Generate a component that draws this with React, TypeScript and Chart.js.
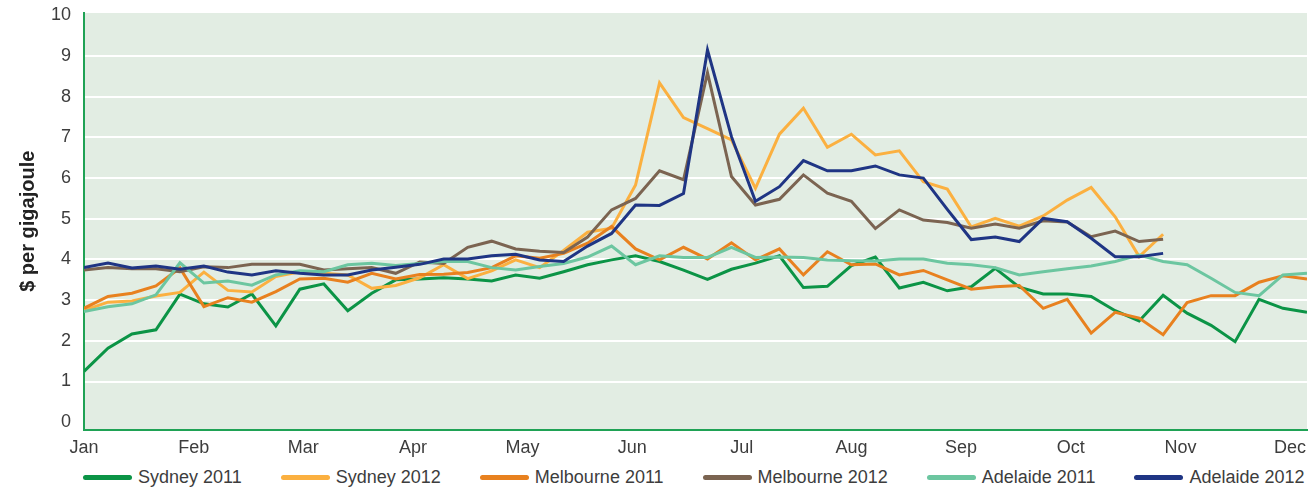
import React, { useEffect, useRef } from "react";
import { Chart, registerables } from "chart.js";

Chart.register(...registerables);

// ---- data ----
const months = ["Jan", "Feb", "Mar", "Apr", "May", "Jun", "Jul", "Aug", "Sep", "Oct", "Nov", "Dec"];
const yTickValues = [0, 1, 2, 3, 4, 5, 6, 7, 8, 9, 10];
const weeksPerMonth = 4.572;

const seriesNames = ["Sydney 2011", "Sydney 2012", "Melbourne 2011", "Melbourne 2012", "Adelaide 2011", "Adelaide 2012"];

const sydney2011 = [
  1.25, 1.82, 2.17, 2.27, 3.15, 2.91, 2.83, 3.15, 2.37, 3.27,
  3.40, 2.74, 3.17, 3.50, 3.52, 3.55, 3.52, 3.47, 3.62, 3.54,
  3.70, 3.87, 3.99, 4.09, 3.95, 3.74, 3.51, 3.76, 3.91, 4.09,
  3.31, 3.34, 3.85, 4.06, 3.30, 3.44, 3.23, 3.33, 3.78, 3.32,
  3.15, 3.15, 3.09, 2.74, 2.49, 3.12, 2.68, 2.38, 1.98, 3.02,
  2.80, 2.70,
];
const sydney2012 = [
  2.75, 2.95, 2.98, 3.10, 3.19, 3.69, 3.24, 3.20, 3.58, 3.70,
  3.66, 3.62, 3.29, 3.36, 3.55, 3.87, 3.53, 3.72, 3.99, 3.80,
  4.22, 4.67, 4.77, 5.83, 8.34, 7.49, 7.22, 6.94, 5.75, 7.08,
  7.72, 6.76, 7.08, 6.57, 6.67, 5.91, 5.73, 4.80, 5.01, 4.82,
  5.07, 5.46, 5.77, 5.05, 4.07, 4.62,
];
const melbourne2011 = [
  2.80, 3.09, 3.17, 3.35, 3.79, 2.84, 3.06, 2.95, 3.21, 3.52,
  3.54, 3.44, 3.66, 3.52, 3.63, 3.64, 3.68, 3.80, 4.09, 4.03,
  4.15, 4.40, 4.81, 4.26, 3.99, 4.30, 4.01, 4.41, 3.99, 4.26,
  3.62, 4.19, 3.87, 3.89, 3.62, 3.73, 3.50, 3.27, 3.33, 3.36,
  2.80, 3.02, 2.19, 2.70, 2.56, 2.15, 2.94, 3.11, 3.11, 3.44,
  3.60, 3.52,
];
const melbourne2012 = [
  3.74, 3.80, 3.77, 3.77, 3.70, 3.82, 3.80, 3.88, 3.88, 3.88,
  3.74, 3.77, 3.80, 3.66, 3.94, 3.90, 4.30, 4.45, 4.26, 4.20,
  4.17, 4.55, 5.22, 5.50, 6.18, 5.96, 8.59, 6.04, 5.34, 5.48,
  6.08, 5.63, 5.43, 4.76, 5.22, 4.97, 4.91, 4.77, 4.87, 4.77,
  4.95, 4.92, 4.56, 4.70, 4.44, 4.50,
];
const adelaide2011 = [
  2.72, 2.84, 2.91, 3.13, 3.92, 3.42, 3.47, 3.37, 3.62, 3.72,
  3.70, 3.87, 3.91, 3.85, 3.90, 3.95, 3.95, 3.80, 3.74, 3.83,
  3.90, 4.06, 4.33, 3.87, 4.09, 4.05, 4.05, 4.30, 4.05, 4.06,
  4.05, 3.99, 3.97, 3.96, 4.01, 4.01, 3.91, 3.87, 3.80, 3.62,
  3.70, 3.77, 3.84, 3.95, 4.11, 3.95, 3.87, 3.54, 3.19, 3.11,
  3.62, 3.66,
];
const adelaide2012 = [
  3.80, 3.91, 3.79, 3.84, 3.76, 3.84, 3.69, 3.62, 3.72, 3.66,
  3.62, 3.62, 3.74, 3.81, 3.88, 4.01, 4.01, 4.09, 4.13, 3.99,
  3.95, 4.33, 4.64, 5.34, 5.33, 5.62, 9.15, 7.02, 5.43, 5.79,
  6.43, 6.18, 6.18, 6.30, 6.08, 6.00, 5.23, 4.49, 4.55, 4.44,
  5.01, 4.93, 4.52, 4.07, 4.07, 4.15,
];

const seriesValues = [sydney2011, sydney2012, melbourne2011, melbourne2012, adelaide2011, adelaide2012];
const seriesColors = ["#0b9446", "#fbb040", "#e8811f", "#7b6451", "#6cc6a0", "#1f3584"];

const FONT = "'Liberation Sans', Arial, Helvetica, sans-serif";
const TEXT_COLOR = "#3d3d3d";
const AXIS_COLOR = "#1fa255";
const PLOT_BG = "#e2ede3";

const plotBackground = {
  id: "plotBackground",
  beforeDraw(chart: any) {
    const { ctx, chartArea } = chart;
    if (!chartArea) return;
    ctx.save();
    ctx.fillStyle = PLOT_BG;
    ctx.fillRect(chartArea.left, chartArea.top, chartArea.right - chartArea.left, chartArea.bottom - chartArea.top);
    ctx.restore();
  },
};

export default function App() {
  const canvasRef = useRef<HTMLCanvasElement | null>(null);

  useEffect(() => {
    if (!canvasRef.current) return;
    const datasets = seriesNames.map((name, i) => ({
      label: name,
      data: seriesValues[i].map((v, k) => ({ x: k, y: v })),
      borderColor: seriesColors[i],
      backgroundColor: seriesColors[i],
      borderWidth: 3,
      pointRadius: 0,
      pointHoverRadius: 0,
      tension: 0,
      fill: false,
      order: seriesNames.length - i,
    }));

    const chart = new Chart(canvasRef.current, {
      type: "line",
      data: { datasets },
      plugins: [plotBackground],
      options: {
        animation: false,
        responsive: true,
        maintainAspectRatio: false,
        layout: { padding: { left: 0, right: 5, top: 13, bottom: 0 } },
        plugins: {
          legend: { display: false },
          tooltip: { enabled: false },
        },
        scales: {
          x: {
            type: "linear",
            min: 0,
            max: 51,
            grid: { display: false, drawTicks: false },
            border: { display: true, color: AXIS_COLOR, width: 2 },
            afterBuildTicks: (scale: any) => {
              scale.ticks = months.map((_, i) => ({ value: i * weeksPerMonth }));
            },
            afterFit: (scale: any) => {
              scale.height = 30.5;
              scale.paddingLeft = 0;
              scale.paddingRight = 0;
            },
            ticks: {
              autoSkip: false,
              maxRotation: 0,
              padding: 8,
              color: TEXT_COLOR,
              font: { family: FONT, size: 18 },
              callback: (_v: any, i: number) => months[i],
            },
          },
          y: {
            type: "linear",
            min: -0.18,
            max: 10.06,
            afterBuildTicks: (scale: any) => {
              scale.ticks = yTickValues.map((v) => ({ value: v }));
            },
            afterFit: (scale: any) => {
              scale.width = 84;
              scale.paddingTop = 0;
              scale.paddingBottom = 0;
            },
            grid: {
              drawTicks: false,
              lineWidth: 2,
              color: (ctx: any) =>
                ctx.tick && ctx.tick.value > 0 && ctx.tick.value < 10 ? "#ffffff" : "rgba(0,0,0,0)",
            },
            border: { display: true, color: AXIS_COLOR, width: 2 },
            ticks: {
              padding: 13,
              color: TEXT_COLOR,
              font: { family: FONT, size: 18 },
              callback: (v: any) => String(v),
            },
            title: {
              display: true,
              text: "$ per gigajoule",
              color: "#222222",
              font: { family: FONT, size: 20, weight: "bold" },
              padding: { top: 16, bottom: 0 },
            },
          },
        },
      },
    });
    return () => chart.destroy();
  }, []);

  return (
    <div style={{ position: "absolute", left: 0, top: 0, width: 1312, height: 491, background: "#fff" }}>
      <div style={{ position: "relative", width: 1312, height: 460 }}>
        <canvas ref={canvasRef} />
      </div>
      <div
        style={{
          position: "absolute",
          left: 83,
          top: 465,
          display: "flex",
          alignItems: "center",
          gap: 39,
          fontFamily: FONT,
          fontSize: 18,
          color: TEXT_COLOR,
          whiteSpace: "nowrap",
        }}
      >
        {seriesNames.map((name, i) => (
          <div key={name} style={{ display: "flex", alignItems: "center", height: 24 }}>
            <span
              style={{
                display: "inline-block",
                width: 49,
                height: 5,
                borderRadius: 3,
                background: seriesColors[i],
                marginRight: 6,
              }}
            />
            <span>{name}</span>
          </div>
        ))}
      </div>
    </div>
  );
}
